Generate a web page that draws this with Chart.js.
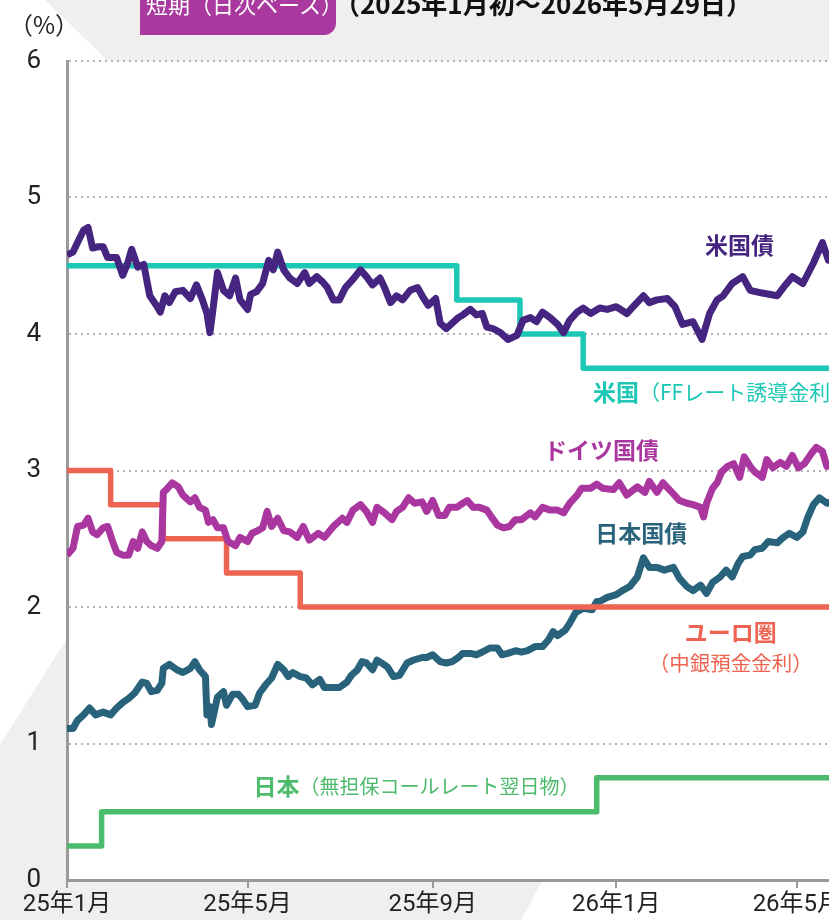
<!DOCTYPE html>
<html lang="ja">
<head>
<meta charset="utf-8">
<script src="https://cdn.jsdelivr.net/npm/chart.js@4.4.1/dist/chart.umd.min.js"></script>
<style>
  html, body { margin: 0; padding: 0; overflow: hidden; background: #fff; }
  #wrap { position: relative; width: 860px; height: 935px; }
  #chart { position: absolute; left: 0; top: 0; }
  .tag {
    position: absolute; left: 140px; top: -20px; width: 190px; height: 55px;
    padding-left: 6px; background: #a9399f; color: #fff; white-space: nowrap;
    border-bottom-right-radius: 12px; overflow: hidden;
    font: 22px/46px "Noto Sans CJK JP", sans-serif;
  }
  .period {
    position: absolute; left: 334px; top: -20px; color: #111; white-space: nowrap;
    font: bold 26px/46px "Noto Sans CJK JP", sans-serif;
  }
  .unit {
    position: absolute; left: 9px; top: 8px; color: #222; white-space: nowrap;
    font: 24px/32px "Noto Sans CJK JP", sans-serif;
  }
</style>
</head>
<body>
<div id="wrap">
  <canvas id="chart" width="860" height="935"></canvas>
  <div class="tag">短期（日次ベース）</div>
  <div class="period">（2025年1月初～2026年5月29日）</div>
  <div class="unit">（%）</div>
</div>
<script>
// x = days since 2025-01-01, y = yield (%)
const tickDays = [0, 120, 243, 365, 485];
const tickLabels = ['25年1月', '25年5月', '25年9月', '26年1月', '26年5月'];

const usBond = [[0,4.58],[4,4.60],[7,4.67],[11,4.76],[14,4.78],[17,4.63],[21,4.64],[24,4.64],[27,4.56],[33,4.56],[37,4.43],[40,4.51],[43,4.62],[47,4.49],[51,4.51],[55,4.28],[60,4.20],[62,4.16],[65,4.28],[68,4.23],[72,4.31],[77,4.32],[82,4.26],[86,4.36],[90,4.25],[93,4.15],[95,4.01],[97,4.18],[100,4.45],[104,4.32],[108,4.28],[112,4.41],[115,4.25],[120,4.18],[122,4.29],[126,4.31],[130,4.37],[134,4.54],[137,4.47],[140,4.60],[144,4.47],[148,4.41],[153,4.37],[158,4.45],[161,4.37],[166,4.42],[170,4.38],[173,4.34],[177,4.25],[181,4.25],[185,4.34],[190,4.40],[195,4.47],[199,4.42],[203,4.36],[208,4.41],[211,4.34],[215,4.23],[219,4.28],[223,4.25],[228,4.32],[233,4.34],[236,4.28],[240,4.21],[245,4.26],[248,4.08],[252,4.04],[256,4.08],[260,4.12],[263,4.14],[268,4.18],[272,4.14],[276,4.15],[279,4.05],[283,4.04],[288,4.01],[293,3.96],[299,3.99],[303,4.10],[308,4.12],[312,4.09],[316,4.16],[321,4.12],[326,4.07],[330,4.01],[334,4.10],[339,4.16],[343,4.19],[348,4.15],[354,4.19],[359,4.18],[365,4.20],[372,4.15],[377,4.21],[383,4.28],[387,4.23],[392,4.25],[399,4.26],[404,4.20],[409,4.07],[416,4.09],[422,3.96],[427,4.15],[432,4.25],[436,4.28],[442,4.37],[449,4.42],[454,4.32],[462,4.30],[472,4.28],[476,4.34],[482,4.42],[489,4.37],[496,4.52],[502,4.67],[506,4.54],[512,4.56]];

const germanBund = [[0,2.38],[4,2.43],[7,2.59],[11,2.60],[14,2.65],[17,2.55],[20,2.53],[24,2.58],[27,2.59],[30,2.49],[33,2.40],[37,2.38],[41,2.38],[44,2.48],[47,2.43],[50,2.55],[53,2.48],[56,2.45],[60,2.43],[63,2.48],[64,2.84],[66,2.86],[70,2.91],[74,2.88],[77,2.82],[82,2.77],[85,2.80],[88,2.73],[92,2.71],[94,2.62],[97,2.64],[100,2.58],[104,2.58],[107,2.48],[112,2.45],[115,2.51],[120,2.48],[123,2.54],[127,2.56],[130,2.58],[133,2.70],[136,2.59],[140,2.65],[144,2.56],[148,2.55],[153,2.51],[157,2.59],[161,2.49],[167,2.54],[171,2.51],[177,2.59],[183,2.65],[186,2.62],[190,2.71],[195,2.75],[199,2.70],[203,2.62],[206,2.73],[211,2.69],[216,2.64],[219,2.70],[223,2.73],[227,2.80],[231,2.76],[236,2.77],[239,2.70],[243,2.78],[247,2.67],[251,2.67],[254,2.73],[259,2.73],[263,2.76],[266,2.78],[270,2.73],[274,2.73],[279,2.71],[282,2.66],[286,2.60],[290,2.58],[294,2.59],[298,2.64],[302,2.64],[308,2.69],[311,2.66],[316,2.73],[321,2.71],[326,2.71],[330,2.69],[334,2.76],[339,2.82],[342,2.87],[348,2.87],[352,2.90],[356,2.87],[363,2.86],[367,2.91],[372,2.82],[379,2.88],[384,2.84],[387,2.92],[392,2.84],[396,2.91],[402,2.84],[407,2.78],[412,2.76],[416,2.75],[421,2.73],[423,2.66],[425,2.76],[429,2.87],[432,2.91],[435,2.99],[439,3.03],[443,3.05],[447,2.95],[450,3.10],[454,3.03],[457,2.99],[462,2.95],[465,3.08],[469,3.02],[474,3.06],[478,3.03],[482,3.11],[486,3.02],[490,3.05],[495,3.13],[498,3.17],[502,3.14],[505,3.03],[512,3.05]];

const japanBond = [[0,1.11],[4,1.11],[7,1.17],[11,1.21],[15,1.26],[19,1.21],[24,1.23],[29,1.21],[33,1.26],[37,1.30],[41,1.33],[45,1.37],[50,1.45],[53,1.44],[56,1.38],[60,1.39],[63,1.44],[64,1.55],[68,1.58],[73,1.54],[77,1.52],[82,1.55],[85,1.60],[88,1.54],[92,1.49],[93,1.21],[95,1.27],[96,1.14],[100,1.34],[104,1.38],[106,1.28],[110,1.36],[114,1.36],[117,1.32],[120,1.27],[125,1.28],[128,1.37],[132,1.43],[136,1.48],[140,1.58],[144,1.54],[147,1.49],[150,1.52],[155,1.49],[159,1.48],[163,1.43],[168,1.47],[171,1.41],[177,1.41],[181,1.41],[186,1.45],[189,1.50],[193,1.54],[196,1.60],[199,1.59],[203,1.54],[206,1.61],[209,1.59],[213,1.56],[217,1.49],[221,1.50],[226,1.59],[230,1.61],[236,1.63],[239,1.63],[243,1.65],[248,1.60],[252,1.59],[256,1.60],[260,1.63],[263,1.66],[268,1.66],[272,1.65],[276,1.67],[281,1.70],[286,1.70],[289,1.65],[293,1.66],[298,1.68],[302,1.67],[306,1.68],[311,1.71],[316,1.71],[320,1.76],[323,1.82],[326,1.79],[331,1.83],[334,1.88],[338,1.96],[343,1.99],[349,1.98],[352,2.04],[354,2.04],[359,2.07],[365,2.09],[369,2.12],[374,2.15],[379,2.22],[383,2.36],[387,2.29],[392,2.29],[397,2.27],[403,2.29],[407,2.21],[412,2.15],[416,2.12],[421,2.16],[425,2.10],[429,2.18],[434,2.22],[438,2.27],[442,2.22],[446,2.32],[449,2.37],[454,2.38],[457,2.42],[462,2.43],[466,2.48],[472,2.47],[476,2.51],[480,2.54],[485,2.51],[489,2.55],[492,2.65],[496,2.75],[500,2.80],[505,2.76],[512,2.78]];

// policy rates: value holds until the next change day
const fedFunds = [[0,4.50],[259,4.25],[301,4.00],[343,3.75],[513,3.75]];
const ecbDeposit = [[0,3.00],[29,2.75],[64,2.50],[106,2.25],[155,2.00],[513,2.00]];
const bojCall = [[0,0.25],[23,0.50],[352,0.75],[513,0.75]];

const CJK = '"Noto Sans CJK JP", sans-serif';
const TICK_FONT = 'Roboto, "Noto Sans CJK JP", sans-serif';

const colors = {
  us: '#452580', ff: '#1cc8b5', de: '#a9379f',
  ecb: '#ee6452', jp: '#28637b', boj: '#4cbb6b'
};

const notes = [
  { day: 424, value: 4.65, color: colors.us, parts: [['米国債', 'bold', 23]] },
  { day: 349.5, value: 3.575, color: colors.ff, parts: [['米国', 'bold', 23], ['（FFレート誘導金利）', 'normal', 21]] },
  { day: 317, value: 3.15, color: colors.de, parts: [['ドイツ国債', 'bold', 23]] },
  { day: 351, value: 2.54, color: colors.jp, parts: [['日本国債', 'bold', 23]] },
  { day: 441, value: 1.817, color: colors.ecb, center: true, parts: [['ユーロ圏', 'bold', 23]] },
  { day: 441, value: 1.59, color: colors.ecb, center: true, parts: [['（中銀預金金利）', 'normal', 20.5]] },
  { day: 124, value: 0.689, color: colors.boj, parts: [['日本', 'bold', 23], ['（無担保コールレート翌日物）', 'normal', 20]] }
];

function toPoints(rows) {
  return rows.map(([x, y]) => ({ x, y }));
}

function fillPoly(ctx, pts) {
  ctx.beginPath();
  pts.forEach(([x, y], i) => (i ? ctx.lineTo(x, y) : ctx.moveTo(x, y)));
  ctx.closePath();
  ctx.fill();
}

const backdrop = {
  id: 'backdrop',
  beforeDraw(chart) {
    const { ctx, chartArea: a, width, height } = chart;
    ctx.save();
    ctx.fillStyle = '#fff';
    ctx.fillRect(0, 0, width, height);
    ctx.fillStyle = '#efefef';
    fillPoly(ctx, [[45, 0], [width, 0], [width, a.top], [108, a.top]]);
    fillPoly(ctx, [[0, 745], [154, 500], [748, 500], [513, height], [0, height]]);
    ctx.fillStyle = '#fff';
    ctx.fillRect(a.left, a.top, a.right - a.left, a.bottom - a.top);
    ctx.restore();
  }
};

const seriesNotes = {
  id: 'seriesNotes',
  afterDatasetsDraw(chart) {
    const { ctx, scales: { x, y } } = chart;
    ctx.save();
    ctx.textBaseline = 'middle';
    for (const note of notes) {
      const widths = note.parts.map(([t, w, s]) => {
        ctx.font = `${w} ${s}px ${CJK}`;
        return ctx.measureText(t).width;
      });
      let px = x.getPixelForValue(note.day);
      if (note.center) px -= widths.reduce((a, b) => a + b, 0) / 2;
      const py = y.getPixelForValue(note.value);
      ctx.fillStyle = note.color;
      note.parts.forEach(([t, w, s], i) => {
        ctx.font = `${w} ${s}px ${CJK}`;
        ctx.fillText(t, px, py);
        px += widths[i];
      });
    }
    ctx.restore();
  }
};

function lineSet(data, color, width, stepped) {
  return {
    data: toPoints(data), borderColor: color, borderWidth: width,
    pointRadius: 0, tension: 0, stepped: stepped ? 'before' : false,
    borderJoinStyle: 'round', borderCapStyle: 'butt', fill: false
  };
}

new Chart(document.getElementById('chart'), {
  type: 'line',
  data: {
    datasets: [
      lineSet(usBond, colors.us, 7),
      lineSet(germanBund, colors.de, 7),
      lineSet(ecbDeposit, colors.ecb, 5.5, true),
      lineSet(japanBond, colors.jp, 7),
      lineSet(fedFunds, colors.ff, 5.5, true),
      lineSet(bojCall, colors.boj, 5.5, true)
    ]
  },
  options: {
    responsive: false,
    animation: false,
    layout: { padding: { top: 61, right: 21, left: 0, bottom: 0 } },
    plugins: { legend: { display: false }, tooltip: { enabled: false } },
    scales: {
      x: {
        type: 'linear', min: 0, max: 513,
        afterBuildTicks: (s) => { s.ticks = tickDays.map((value) => ({ value })); },
        afterFit: (s) => { s.height = 55; },
        grid: { drawOnChartArea: false, tickLength: 8, color: '#9a9a9a', lineWidth: 2 },
        border: { color: '#9a9a9a', width: 3 },
        ticks: {
          autoSkip: false, maxRotation: 0, padding: 3, color: '#222',
          font: { family: TICK_FONT, size: 24 },
          callback: (v) => tickLabels[tickDays.indexOf(v)]
        }
      },
      y: {
        min: 0, max: 6,
        afterFit: (s) => { s.width = 67; },
        ticks: { stepSize: 1, padding: 26, color: '#222', font: { family: TICK_FONT, size: 26 } },
        grid: {
          drawTicks: false, lineWidth: 2,
          color: (c) => (c.tick && c.tick.value === 0 ? 'rgba(0,0,0,0)' : '#b3b3b3')
        },
        border: { color: '#9a9a9a', width: 3, dash: [2, 4] }
      }
    }
  },
  plugins: [backdrop, seriesNotes]
});
</script>
</body>
</html>
